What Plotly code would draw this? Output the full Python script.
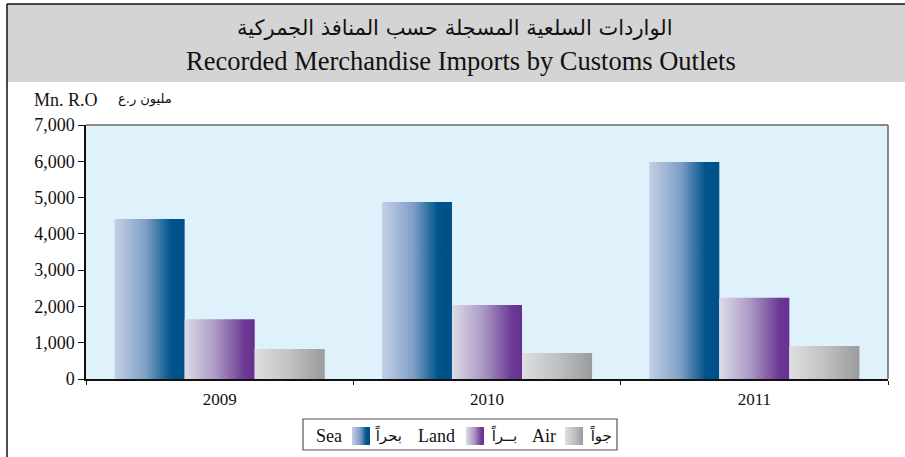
import urllib.parse
import plotly.graph_objects as go

# ---- data ----
years = ["2009", "2010", "2011"]
sea = [4410, 4877, 5978]
land = [1650, 2039, 2240]
air = [826, 716, 910]

series_en = ["Sea", "Land", "Air"]
series_ar = ["بحراً", "بــراً", "جواً"]
series_vals = [sea, land, air]
gradients = [
    [[0, "#c3d0e6"], [0.45, "#7f9fc6"], [0.8, "#00548c"], [1, "#004f88"]],
    [[0, "#dcdce6"], [0.45, "#ab97c4"], [0.85, "#6c3b95"], [1, "#66308e"]],
    [[0, "#dedfe1"], [0.5, "#c0c1c3"], [1, "#9a9b9d"]],
]

W = 905
H = 457
L, R, T, B = 86, 17, 125, 78
PW = W - L - R
PH = H - T - B


def px(x):
    return (x - L) / PW


def py(y):
    return (H - B - y) / PH


bar_w = 0.262
fig = go.Figure()
for j, (vals, grad, name) in enumerate(zip(series_vals, gradients, series_en)):
    for i, v in enumerate(vals):
        c = i + (j - 1) * bar_w
        x0, x1 = c - bar_w / 2, c + bar_w / 2
        fig.add_trace(go.Scatter(
            x=[x0, x1, x1, x0, x0], y=[0, 0, v, v, 0],
            mode="lines", fill="toself",
            line=dict(width=0, color="rgba(0,0,0,0)"),
            fillgradient=dict(type="horizontal", colorscale=grad),
            name=name, showlegend=False,
            hoveron="fills", text=f"{name} {years[i]}: {v:,}", hoverinfo="text",
        ))

serif = "Liberation Serif, Times New Roman, DejaVu Sans, serif"

shapes = [
    dict(type="rect", xref="paper", yref="paper", x0=px(7), x1=px(906), y0=py(82), y1=py(4),
         fillcolor="#d4d4d4", line=dict(width=0), layer="below"),
    dict(type="line", xref="paper", yref="paper", x0=px(7), x1=px(906), y0=py(4), y1=py(4),
         line=dict(color="#111", width=1.5)),
    dict(type="line", xref="paper", yref="paper", x0=px(7), x1=px(7), y0=py(4), y1=py(458),
         line=dict(color="#111", width=1.5)),
    dict(type="line", xref="paper", yref="paper", x0=0, x1=1, y0=1, y1=1,
         line=dict(color="#666", width=1.5)),
    dict(type="line", xref="paper", yref="paper", x0=1, x1=1, y0=0, y1=1,
         line=dict(color="#666", width=1.5)),
    dict(type="rect", xref="paper", yref="paper", x0=px(303), x1=px(617), y0=py(450), y1=py(419),
         fillcolor="rgba(0,0,0,0)", line=dict(color="#555", width=1.2), layer="below"),
]


def ann(text, x, y, size, family=serif, xanchor="center"):
    return dict(text=text, xref="paper", yref="paper", x=px(x), y=py(y), xanchor=xanchor,
                yanchor="middle", showarrow=False, font=dict(family=family, size=size, color="#111"))


annotations = [
    ann("الواردات السلعية المسجلة حسب المنافذ الجمركية", 455, 28, 21, family="DejaVu Sans"),
    ann("Recorded Merchandise Imports by Customs Outlets", 461, 61, 26.5),
    ann("Mn. R.O", 32, 100, 18, xanchor="left"),
    ann("مليون ر.ع", 116, 99, 13, family="DejaVu Sans", xanchor="left"),
]

leg_en_x = [314, 416, 530]
leg_sw_x = [352, 466, 565]
leg_ar_x = [373, 489, 588]
images = []
for k in range(3):
    annotations.append(ann(series_en[k], leg_en_x[k], 436, 18, xanchor="left"))
    annotations.append(ann(series_ar[k], leg_ar_x[k], 435, 15, family="DejaVu Sans", xanchor="left"))
    stops = "".join(f'<stop offset="{s}" stop-color="{c}"/>' for s, c in gradients[k])
    svg = ('<svg xmlns="http://www.w3.org/2000/svg" width="18" height="18">'
           f'<defs><linearGradient id="g" x1="0" x2="1" y1="0" y2="0">{stops}</linearGradient></defs>'
           '<rect width="18" height="18" fill="url(#g)"/></svg>')
    images.append(dict(source="data:image/svg+xml;utf8," + urllib.parse.quote(svg),
                       xref="paper", yref="paper", x=px(leg_sw_x[k]), y=py(427),
                       sizex=18 / PW, sizey=18 / PH, xanchor="left", yanchor="top",
                       sizing="stretch", layer="above"))

fig.update_layout(
    width=W, height=H,
    margin=dict(l=L, r=R, t=T, b=B),
    paper_bgcolor="white",
    plot_bgcolor="#dff1fb",
    showlegend=False,
    shapes=shapes,
    annotations=annotations,
    images=images,
    xaxis=dict(range=[-0.5, 2.5], tickvals=[0, 1, 2], ticktext=years, ticks="",
               showline=True, linecolor="#111", linewidth=1.5, showgrid=False, zeroline=False,
               tickfont=dict(family=serif, size=17, color="#111"), ticklabelstandoff=4,
               minor=dict(tick0=-0.5, dtick=1, ticks="outside", ticklen=4, tickcolor="#111", showgrid=False),
               fixedrange=True),
    yaxis=dict(range=[0, 7000], tickvals=[0, 1000, 2000, 3000, 4000, 5000, 6000, 7000],
               tickformat=",d", ticks="outside", ticklen=6, tickcolor="#111",
               showline=True, linecolor="#111", linewidth=1.5, showgrid=False, zeroline=False,
               tickfont=dict(family=serif, size=18, color="#111"), fixedrange=True),
)

fig.write_html("out.html", config={"displayModeBar": False},
               post_script="document.body.style.margin='0';document.body.style.overflow='hidden';")
